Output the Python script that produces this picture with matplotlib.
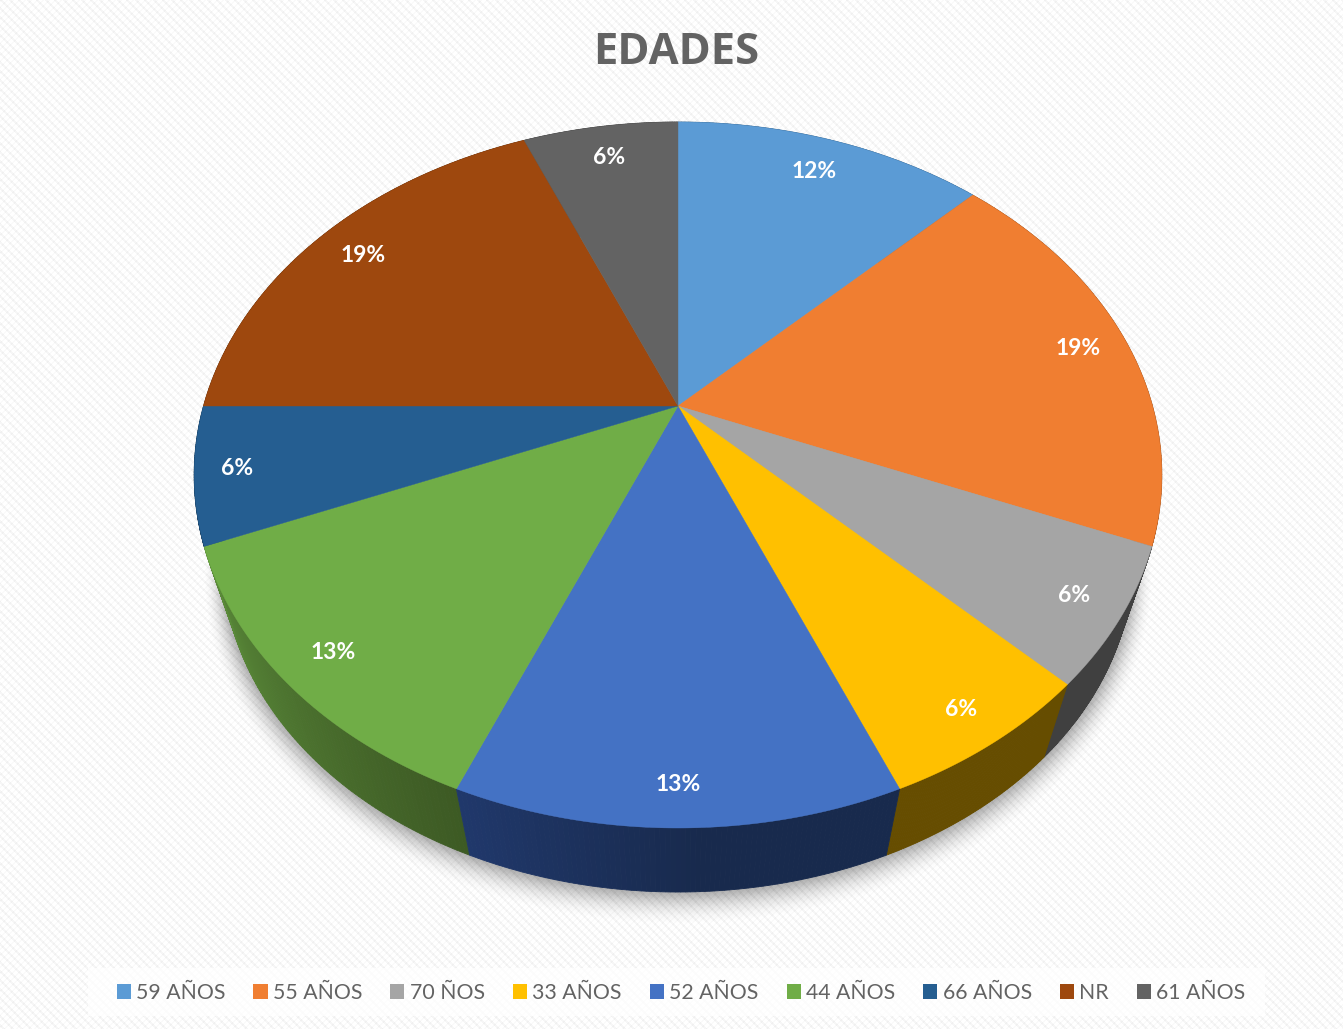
import numpy as np
import matplotlib
matplotlib.use("Agg")
import matplotlib.pyplot as plt
from matplotlib.patches import Patch, Rectangle
from matplotlib.colors import to_rgb

title = "EDADES"
categories = ["59 AÑOS", "55 AÑOS", "70 ÑOS", "33 AÑOS", "52 AÑOS", "44 AÑOS", "66 AÑOS", "NR", "61 AÑOS"]
values = [2, 3, 1, 1, 2, 2, 1, 3, 1]
labels = ["12%", "19%", "6%", "6%", "13%", "13%", "6%", "19%", "6%"]
colors = ["#5B9BD5", "#F07E31", "#A5A5A5", "#FFC000", "#4472C4", "#70AD47", "#255E91", "#9E480E", "#636363"]
wall_right = ["#2F5D85", "#8E4B1D", "#404040", "#664D00", "#182A4D", "#3D5A24", "#163855", "#5F2B08", "#3B3B3B"]
wall_left = ["#2F5D85", "#8E4B1D", "#404040", "#664D00", "#20386B", "#5A8A39", "#163855", "#5F2B08", "#3B3B3B"]
label_radius = [0.865, 0.89, 0.905, 0.915, 0.915, 0.90, 0.915, 0.875, 0.87]

W, H = 1343, 1029
CX, CY = 678.0, 406.0
A, B, P = 474.5, 339.5, 0.1955
VX, VY, T = 678.0, 1895.0, 0.06


def top(th, r=1.0):
    x, y = r * np.sin(th), r * np.cos(th)
    d = 1 + P * y
    return CX + A * x / d, CY - B * y / d


def bottom(th):
    X, Y = top(th)
    return X + (VX - X) * T, Y + (VY - Y) * T


fig = plt.figure(figsize=(W / 100, H / 100), dpi=100)
ax = fig.add_axes([0, 0, 1, 1])
ax.set_xlim(0, W)
ax.set_ylim(H, 0)
ax.axis("off")

# woven background
yy, xx = np.mgrid[0:H, 0:W]
stripe = ((xx - yy) % 9 < 3).astype(float) * 0.65 + ((xx + yy) % 6 < 2).astype(float) * 0.35
ax.imshow(1 - stripe * 0.06, cmap="gray", vmin=0, vmax=1, extent=(0, W, H, 0),
          interpolation="nearest", aspect="auto", zorder=0)

# soft shadow under the pie
full = np.linspace(0, 2 * np.pi, 721)
bx, by = bottom(full)
n = 32
for k in range(n, 0, -1):
    s = 1 + 0.04 * k / n
    ax.fill(VX + (bx - VX) * s, by + k * 0.5 + (by - by.mean()) * (s - 1), color="black",
            alpha=0.002 + 0.016 * (1 - k / n), lw=0, zorder=1)

# slices: side walls back to front, top face above them
edges = 2 * np.pi * np.cumsum([0] + values) / np.sum(values)
mids = (edges[:-1] + edges[1:]) / 2
for i in np.argsort(-np.abs(mids - np.pi)):
    th = np.linspace(edges[i], edges[i + 1], 90)
    cr, cl = np.array(to_rgb(wall_right[i])), np.array(to_rgb(wall_left[i]))
    for j in range(len(th) - 1):
        xa, ya = top(th[j:j + 2])
        xb, yb = bottom(th[j:j + 2])
        f = j / (len(th) - 2)
        if i == 4:  # the front slice stays dark until past its middle
            f = max(0.0, (f - 0.45) / 0.55)
        col = cr + (cl - cr) * f
        ax.fill(np.r_[xa, xb[::-1]], np.r_[ya, yb[::-1]], color=col, lw=0.6, ec=col, zorder=2)

for i in range(len(values)):
    th = np.linspace(edges[i], edges[i + 1], 120)
    x, y = top(th)
    ax.fill(np.r_[CX, x], np.r_[CY, y], color=colors[i], lw=0.3, ec=colors[i], zorder=3)
    lx, ly = top(mids[i], label_radius[i])
    ax.text(lx, ly, labels[i], color="white", fontsize=16.5, fontweight="bold", family="Lato",
            ha="center", va="center", zorder=4)

ax.text(676.5, 52, title, color="#636363", fontsize=31.3, fontweight="bold", family="Open Sans",
        ha="center", va="center", zorder=4)

ax.add_patch(Rectangle((88, 968), 1177, 48, fc="white", ec="none", alpha=0.75, zorder=1))
handles = [Patch(facecolor=c, edgecolor="none") for c in colors]
leg = ax.legend(handles, categories, ncol=len(categories), loc="center", bbox_to_anchor=(681, 993),
                bbox_transform=ax.transData, frameon=False, prop={"family": "Lato", "size": 15.3},
                labelcolor="#636363", handlelength=0.66, handleheight=0.66, handletextpad=0.25,
                columnspacing=1.32, borderpad=0, borderaxespad=0)
leg.set_zorder(5)

fig.savefig("out.png", dpi=100)
